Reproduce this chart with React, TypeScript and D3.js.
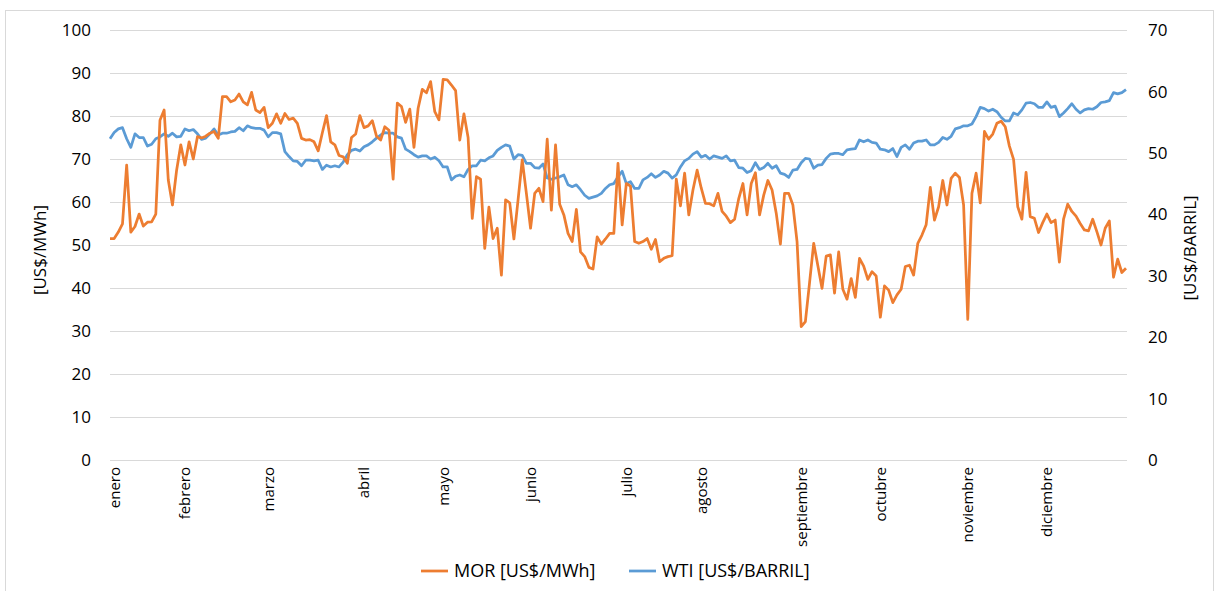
import React, { useEffect, useRef } from "react";
import * as d3 from "d3";

// MOR [US$/MWh], one value per day on the chart
const morValues = [
  51.5, 51.5, 53, 54.9, 68.6, 53, 54.3, 57.2, 54.4, 55.3,
  55.4, 57.2, 79, 81.4, 65.1, 59.3, 67.4, 73.3, 68.6, 74,
  70, 75.2, 74.9, 75.3, 76, 76.4, 74.8, 84.5, 84.5, 83.3,
  83.7, 85.1, 83.3, 82.6, 85.5, 81.4, 80.8, 82, 77.3, 78.3,
  80.5, 78.3, 80.6, 79.2, 79.5, 78.3, 74.8, 74.4,
  74.5, 74, 71.9, 76.1, 80.1, 74, 73.3, 70.8, 70.5, 69,
  75, 75.8, 80.1, 77.3, 77.7, 78.9, 75.3, 74.4, 77.5, 76.7,
  65.3, 83, 82.2, 78.5, 81.6, 72.7, 81.8, 86.2, 85.4, 88,
  81, 79.1, 88.5, 88.4, 87.2, 85.9, 74.4, 80.5, 75, 56.2,
  65.9, 65.3, 49.2, 58.8, 51.5, 53.9, 43, 60.5,
  59.8, 51.4, 60.5, 69.8, 62, 53.9, 62, 63.2, 60.1, 74.6,
  58.1, 73.3, 59.5, 57, 52.7, 50.8, 58.3, 48.4, 47.3, 44.8,
  44.4, 51.9, 50.2, 51.4, 52.7, 52.7, 69, 54.7, 64.3, 63.7,
  50.8, 50.4, 50.8, 51.5, 49, 51.3, 46.1, 46.9, 47.3, 47.5,
  65.3, 59.1, 66.7, 57, 62.8, 67.4, 63.2, 59.7,
  59.6, 59.1, 62, 57.8, 56.7, 55.2, 56, 60.8, 64.3, 57,
  64.3, 66.8, 57, 61.6, 65, 62.8, 57.4, 50.2, 62, 62,
  59.3, 50.8, 31, 32.2, 41.2, 50.4, 45.2, 39.9, 47.4, 47.7,
  38.8, 48.4, 39.7, 37.4, 42.2, 37.8, 46.9, 45.1, 42, 43.8,
  42.8, 33.2, 40.5, 39.5, 36.6, 38.4, 39.7, 45,
  45.3, 43, 50.4, 52.3, 54.7, 63.4, 55.8, 58.9, 65, 59.3,
  65.5, 66.7, 65.7, 59.3, 32.7, 62, 66.7, 59.8, 76.4, 74.6,
  75.8, 78.3, 78.8, 77.5, 73, 69.9, 58.9, 56, 66.9, 56.6,
  56.2, 52.9, 55.2, 57.2, 55.2, 55.8, 46, 56, 59.5, 57.8,
  56.7, 55, 53.5, 53.3, 56, 53.1, 50, 53.9, 55.6, 42.5,
  46.7, 43.6, 44.6,
];

// WTI [US$/BARRIL]
const wtiValues = [
  52.3, 53.3, 53.9, 54.1, 52.3, 50.9, 53.1, 52.5, 52.5, 51.1,
  51.4, 52.3, 52.6, 53.1, 52.7, 53.2, 52.6, 52.7, 53.9, 53.6,
  53.8, 53.1, 52.2, 52.4, 53.1, 53.9, 52.9, 53.2, 53.2, 53.4,
  53.5, 54.1, 53.6, 54.4, 54.1, 54, 54, 53.7, 52.6, 53.3,
  53.3, 53.1, 50.2, 49.4, 48.7, 48.6, 47.9, 48.8,
  48.8, 48.7, 48.8, 47.3, 48, 47.7, 47.9, 47.7, 48.5, 49.7,
  50.4, 50.6, 50.3, 51, 51.3, 51.8, 52.4, 52.9, 53.3, 53.2,
  53.2, 52.6, 52.4, 50.6, 50.2, 49.7, 49.3, 49.5, 49.5, 49,
  49.3, 48.7, 47.7, 47.7, 45.6, 46.2, 46.4, 46.1, 47.3, 47.9,
  47.9, 48.8, 48.7, 49.2, 49.5, 50.4, 50.9, 51.3,
  51.1, 49, 49.7, 49.6, 48.3, 48.3, 47.6, 47.5, 48.2, 45.9,
  45.7, 45.9, 46.1, 46.4, 44.8, 44.5, 44.8, 44, 43.1, 42.6,
  42.8, 43, 43.4, 44.2, 44.8, 45, 46.1, 47, 45, 45.3,
  44.2, 44.2, 45.6, 46, 46.6, 46, 46.4, 47, 46.7, 45.9,
  46.4, 47.7, 48.7, 49.1, 49.8, 50.2, 49.3, 49.6,
  49, 49.5, 49.3, 49.1, 49.5, 48.7, 48.8, 47.6, 47.5, 46.8,
  47.1, 48.4, 47.3, 47.6, 48.3, 47.5, 47.9, 46.7, 46.5, 46,
  47.2, 47.3, 48.4, 49.1, 49, 47.5, 48, 48.1, 49.1, 49.8,
  49.9, 49.9, 49.7, 50.5, 50.6, 50.7, 52.1, 51.8, 52.1, 51.7,
  51.6, 50.6, 50.5, 50.2, 50.7, 49.4, 50.9, 51.3,
  50.6, 51.6, 51.9, 51.9, 52.1, 51.3, 51.3, 51.7, 52.5, 52.2,
  52.7, 53.9, 54.1, 54.4, 54.4, 54.7, 55.9, 57.4, 57.2, 56.8,
  57.1, 56.7, 55.8, 55.2, 55.2, 56.5, 56.2, 57, 58.1, 58.2,
  58, 57.4, 57.4, 58.3, 57.4, 57.6, 55.9, 56.5, 57.2, 58,
  57.1, 56.5, 57, 57.2, 57.1, 57.5, 58.2, 58.3, 58.5, 59.8,
  59.6, 59.8, 60.3,
];

const monthLabels = [
  "enero", "febrero", "marzo", "abril", "mayo", "junio",
  "julio", "agosto", "septiembre", "octubre", "noviembre", "diciembre",
];
const monthIndex = [1, 18, 38, 61, 80, 101, 124, 142, 166, 185, 206, 225];

const leftTicks = [0, 10, 20, 30, 40, 50, 60, 70, 80, 90, 100];
const rightTicks = [0, 10, 20, 30, 40, 50, 60, 70];

const seriesNames = ["MOR [US$/MWh]", "WTI [US$/BARRIL]"];
const ORANGE = "#ED7D31";
const BLUE = "#5B9BD5";
const FONT = "'Open Sans', sans-serif";

function App() {
  const ref = useRef<SVGSVGElement>(null);

  useEffect(() => {
    const svg = d3.select(ref.current);
    svg.selectAll("*").remove();

    const left = 110,
      right = 1127,
      top = 30,
      bottom = 460;

    const x = d3
      .scaleLinear()
      .domain([0, morValues.length - 1])
      .range([left, right - 1]);
    const yL = d3.scaleLinear().domain([0, 100]).range([bottom, top]);
    const yR = d3.scaleLinear().domain([0, 70]).range([bottom, top]);

    svg
      .append("rect")
      .attr("x", 0)
      .attr("y", 0)
      .attr("width", 1218)
      .attr("height", 591)
      .attr("fill", "#fff");

    svg
      .append("rect")
      .attr("x", 5.5)
      .attr("y", 10.5)
      .attr("width", 1208)
      .attr("height", 600)
      .attr("fill", "none")
      .attr("stroke", "#d9d9d9");

    // gridlines
    svg
      .append("g")
      .selectAll("line")
      .data(leftTicks)
      .enter()
      .append("line")
      .attr("x1", left)
      .attr("x2", right)
      .attr("y1", (d) => Math.round(yL(d)) + 0.5)
      .attr("y2", (d) => Math.round(yL(d)) + 0.5)
      .attr("stroke", "#d9d9d9")
      .attr("stroke-width", 1);

    // left axis labels
    svg
      .append("g")
      .selectAll("text")
      .data(leftTicks)
      .enter()
      .append("text")
      .attr("x", 91)
      .attr("y", (d) => yL(d))
      .attr("dy", "0.36em")
      .attr("text-anchor", "end")
      .style("font-family", FONT)
      .style("font-size", "17px")
      .attr("fill", "#000")
      .text((d) => d);

    // right axis labels
    svg
      .append("g")
      .selectAll("text")
      .data(rightTicks)
      .enter()
      .append("text")
      .attr("x", 1148)
      .attr("y", (d) => yR(d))
      .attr("dy", "0.36em")
      .attr("text-anchor", "start")
      .style("font-family", FONT)
      .style("font-size", "17px")
      .attr("fill", "#000")
      .text((d) => d);

    // month labels
    svg
      .append("g")
      .selectAll("text")
      .data(monthLabels)
      .enter()
      .append("text")
      .attr(
        "transform",
        (d, i) => "translate(" + x(monthIndex[i]) + ",467) rotate(-90)"
      )
      .attr("dy", "0.36em")
      .attr("text-anchor", "end")
      .style("font-family", FONT)
      .style("font-size", "15px")
      .attr("fill", "#000")
      .text((d) => d);

    // axis titles
    svg
      .append("text")
      .attr("transform", "translate(40,250) rotate(-90)")
      .attr("dy", "0.36em")
      .attr("text-anchor", "middle")
      .style("font-family", FONT)
      .style("font-size", "17px")
      .text("[US$/MWh]");

    svg
      .append("text")
      .attr("transform", "translate(1190,248) rotate(-90)")
      .attr("dy", "0.36em")
      .attr("text-anchor", "middle")
      .style("font-family", FONT)
      .style("font-size", "17px")
      .text("[US$/BARRIL]");

    // lines
    const morLine = d3
      .line<number>()
      .x((d, i) => x(i))
      .y((d) => yL(d));
    const wtiLine = d3
      .line<number>()
      .x((d, i) => x(i))
      .y((d) => yR(d));

    svg
      .append("path")
      .datum(wtiValues)
      .attr("d", wtiLine)
      .attr("fill", "none")
      .attr("stroke", BLUE)
      .attr("stroke-width", 2.75)
      .attr("stroke-linejoin", "round");

    svg
      .append("path")
      .datum(morValues)
      .attr("d", morLine)
      .attr("fill", "none")
      .attr("stroke", ORANGE)
      .attr("stroke-width", 2.75)
      .attr("stroke-linejoin", "round");

    // legend
    const legendX = [421, 629];
    const legend = svg
      .append("g")
      .selectAll("g")
      .data(seriesNames)
      .enter()
      .append("g")
      .attr("transform", (d, i) => "translate(" + legendX[i] + ",571)");
    legend
      .append("line")
      .attr("x1", 0)
      .attr("x2", 27)
      .attr("y1", 0)
      .attr("y2", 0)
      .attr("stroke", (d, i) => (i === 0 ? ORANGE : BLUE))
      .attr("stroke-width", 2.75);
    legend
      .append("text")
      .attr("x", 33)
      .attr("y", 0)
      .attr("dy", "0.36em")
      .style("font-family", FONT)
      .style("font-size", "18px")
      .text((d) => d);
  }, []);

  return (
    <svg
      ref={ref}
      width={1218}
      height={591}
      style={{ position: "absolute", left: 0, top: 0 }}
    />
  );
}

export default App;
